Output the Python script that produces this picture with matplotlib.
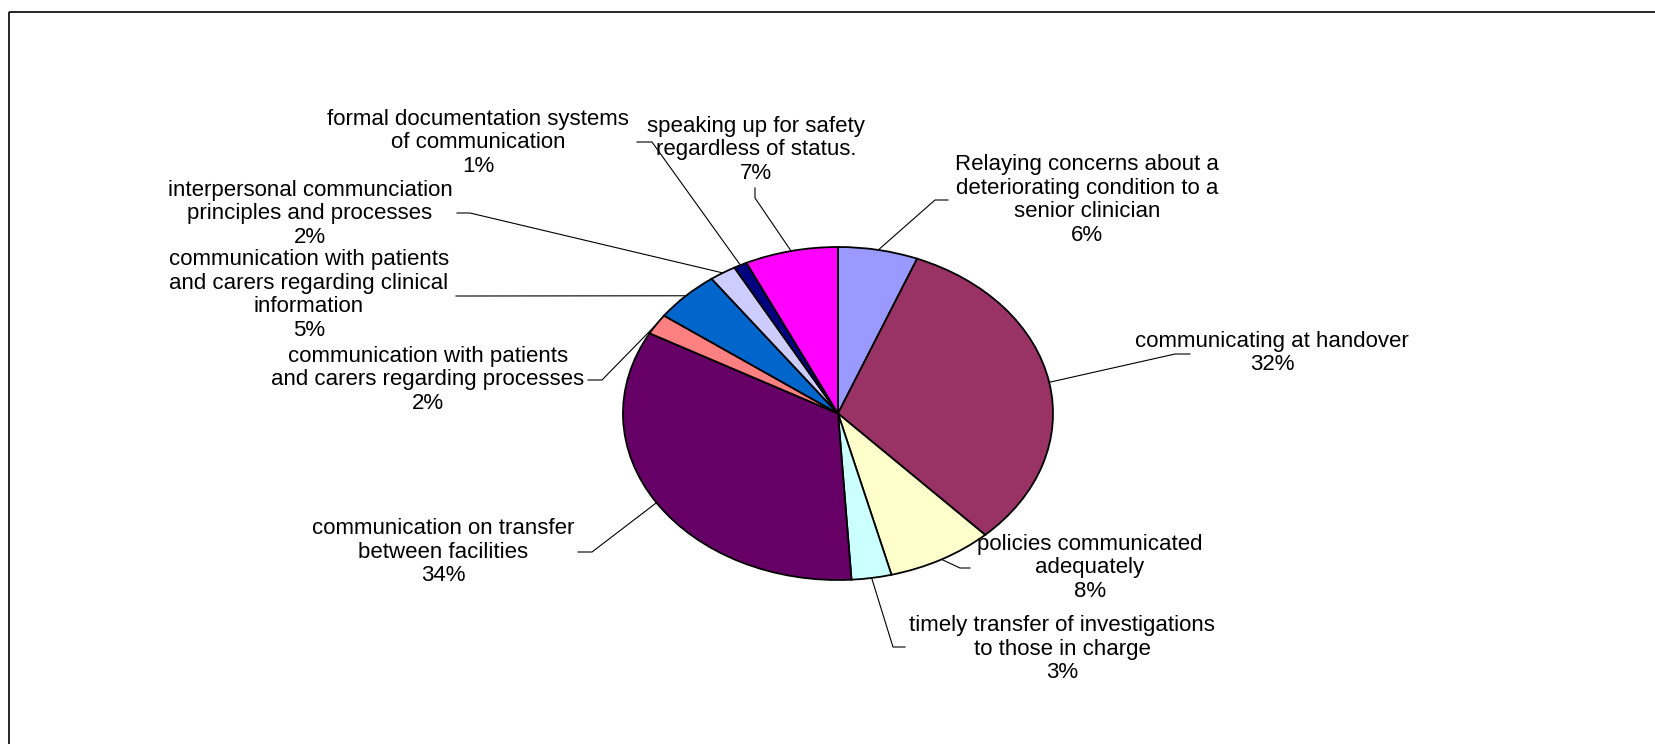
import numpy as np
import matplotlib
matplotlib.use("Agg")
import matplotlib.pyplot as plt
from matplotlib.patches import Rectangle

# Communication issue categories and their share of reports (%)
categories = [
    "Relaying concerns about a\ndeteriorating condition to a\nsenior clinician",
    "communicating at handover",
    "policies communicated\nadequately",
    "timely transfer of investigations\nto those in charge",
    "communication on transfer\nbetween facilities",
    "communication with patients\nand carers regarding processes",
    "communication with patients\nand carers regarding clinical\ninformation",
    "interpersonal communciation\nprinciples and processes",
    "formal documentation systems\nof communication",
    "speaking up for safety\nregardless of status.",
]
percents = [6, 32, 8, 3, 34, 2, 5, 2, 1, 7]
colors = ["#9999FF", "#993366", "#FFFFCC", "#CCFFFF", "#660066",
          "#FF8080", "#0066CC", "#CCCCFF", "#000080", "#FF00FF"]

# label block centres and leader-line elbows (pixels, y down)
label_pos = [(1087, 200), (1272, 353), (1090, 568), (1062, 649), (443, 552),
             (428, 380), (309, 295), (310, 214), (478, 143), (756, 150)]
leader_pts = [
    [(935, 200), (948, 200)],
    [(1175, 354), (1190, 354)],
    [(960, 568), (970, 568)],
    [(893, 647), (905, 647)],
    [(592, 552), (578, 552)],
    [(602, 380), (588, 380)],
    [(470, 296), (456, 296)],
    [(470, 213), (457, 213)],
    [(652, 142), (637, 142)],
    [(755, 198), (755, 188)],
]

W, H = 1656, 744
cx, cy, rx, ry = 838, 413.5, 215, 166.5

plt.rcParams['font.family'] = ['Liberation Sans', 'DejaVu Sans']
fig = plt.figure(figsize=(W / 100, H / 100), dpi=100)

# elliptical pie on its own axes
ax_pie = fig.add_axes([(cx - rx) / W, (H - cy - ry) / H, 2 * rx / W, 2 * ry / H])
wedges, _ = ax_pie.pie(percents, colors=colors, startangle=90, counterclock=False,
                       radius=1, wedgeprops=dict(edgecolor="black", linewidth=1.3))
ax_pie.set_aspect("auto")
ax_pie.set_xlim(-1, 1)
ax_pie.set_ylim(-1, 1)
for w in wedges:
    w.set_clip_on(False)

# overlay in pixel coordinates for labels, leader lines and frame
ax = fig.add_axes([0, 0, 1, 1], zorder=3)
ax.set_xlim(0, W)
ax.set_ylim(H, 0)
ax.axis("off")
ax.patch.set_alpha(0)

ax.add_patch(Rectangle((9.5, 11.5), W + 50, H + 50, fill=False,
                       edgecolor="black", linewidth=1.2))

for w, name, pct, (tx, ty), pts in zip(wedges, categories, percents, label_pos, leader_pts):
    mid = np.deg2rad((w.theta1 + w.theta2) / 2)
    ex = cx + rx * np.cos(mid)
    ey = cy - ry * np.sin(mid)
    xs = [ex] + [p[0] for p in pts]
    ys = [ey] + [p[1] for p in pts]
    ax.plot(xs, ys, color="black", linewidth=0.8)
    ax.text(tx, ty, f"{name}\n{pct}%", ha="center", va="center",
            multialignment="center", fontsize=16, linespacing=1.15)

fig.savefig("out.png", dpi=100)
